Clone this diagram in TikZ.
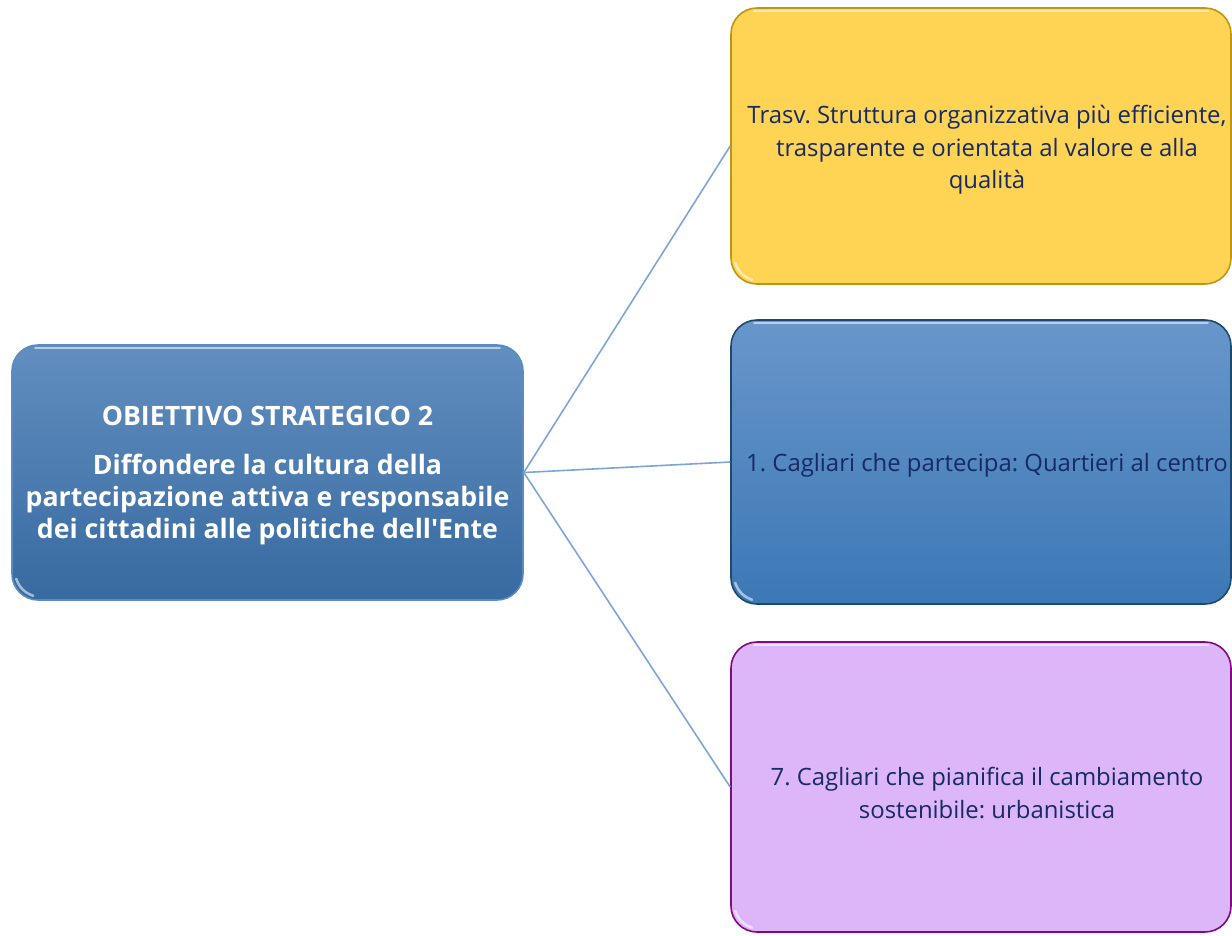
\documentclass[tikz,border=0pt]{standalone}
\usepackage{fontspec}
\setmainfont{Open Sans}[Ligatures=TeXOff]
\frenchspacing
\definecolor{navytext}{RGB}{22,42,100}
\definecolor{linkblue}{RGB}{125,165,215}
\definecolor{ylwfill}{RGB}{255,212,84}
\definecolor{ylwedge}{RGB}{190,150,20}
\definecolor{bluetop}{RGB}{104,150,202}
\definecolor{bluebot}{RGB}{60,120,182}
\definecolor{blueedge}{RGB}{30,72,112}
\definecolor{purpfill}{RGB}{221,182,250}
\definecolor{purpedge}{RGB}{128,10,128}
\definecolor{lefttop}{RGB}{98,142,192}
\definecolor{leftbot}{RGB}{55,106,160}
\definecolor{leftedge}{RGB}{90,140,195}
\tikzset{
  box/.style={rectangle, rounded corners=26pt, line width=1.6pt, inner sep=0pt},
  rightbox/.style={box, minimum width=500pt},
  boxtext/.style={align=center, font=\fontsize{23.9}{32.5}\selectfont\frenchspacing, text=navytext, yshift=-5pt},
  link/.style={draw=linkblue, line width=1.6pt},
  gloss/.style={draw=white, line width=2.5pt, opacity=0.55, line cap=round}
}
\newcommand\glossy[1]{%
  \draw[gloss] ([xshift=24pt,yshift=-4pt]#1.north west) -- ([xshift=-24pt,yshift=-4pt]#1.north east);
  \draw[gloss] ([xshift=5pt,yshift=22pt]#1.south west) to[bend right=25] ([xshift=22pt,yshift=5pt]#1.south west);
}
\begin{document}
\begin{tikzpicture}[x=1pt,y=-1pt]
\useasboundingbox (0,0) rectangle (1232,935);
\node[box, minimum width=511pt, minimum height=255pt, draw=leftedge,
  top color=lefttop, bottom color=leftbot] (L) at (267.5,472.5) {};
\node[boxtext, text=white, font=\bfseries\fontsize{26.7}{32.2}\selectfont, yshift=2pt] (Lt) at (L.center)
  {OBIETTIVO STRATEGICO 2\\[17pt]Diffondere la cultura della\\partecipazione attiva e responsabile\\dei cittadini alle politiche dell'Ente};
\node[rightbox, minimum height=276pt, draw=ylwedge, fill=ylwfill] (Y) at (981,146) {};
\node[boxtext, xshift=6pt, yshift=1pt] (Yt) at (Y.center)
  {Trasv. Struttura organizzativa più efficiente,\\trasparente e orientata al valore e alla\\qualità};
\node[rightbox, minimum height=284pt, draw=blueedge, top color=bluetop, bottom color=bluebot] (B) at (981,462) {};
\node[boxtext, xshift=6pt, yshift=2pt] (Bt) at (B.center)
  {1. Cagliari che partecipa: Quartieri al centro};
\node[rightbox, minimum height=290pt, draw=purpedge, fill=purpfill] (P) at (981,787) {};
\node[boxtext, xshift=6pt, yshift=-1pt] (Pt) at (P.center)
  {7. Cagliari che pianifica il cambiamento\\sostenibile: urbanistica};
\glossy{L}\glossy{Y}\glossy{B}\glossy{P}
\draw[link] (L.east) -- (Y.west);
\draw[link] (L.east) -- (B.west);
\draw[link] (L.east) -- (P.west);
\end{tikzpicture}
\end{document}
